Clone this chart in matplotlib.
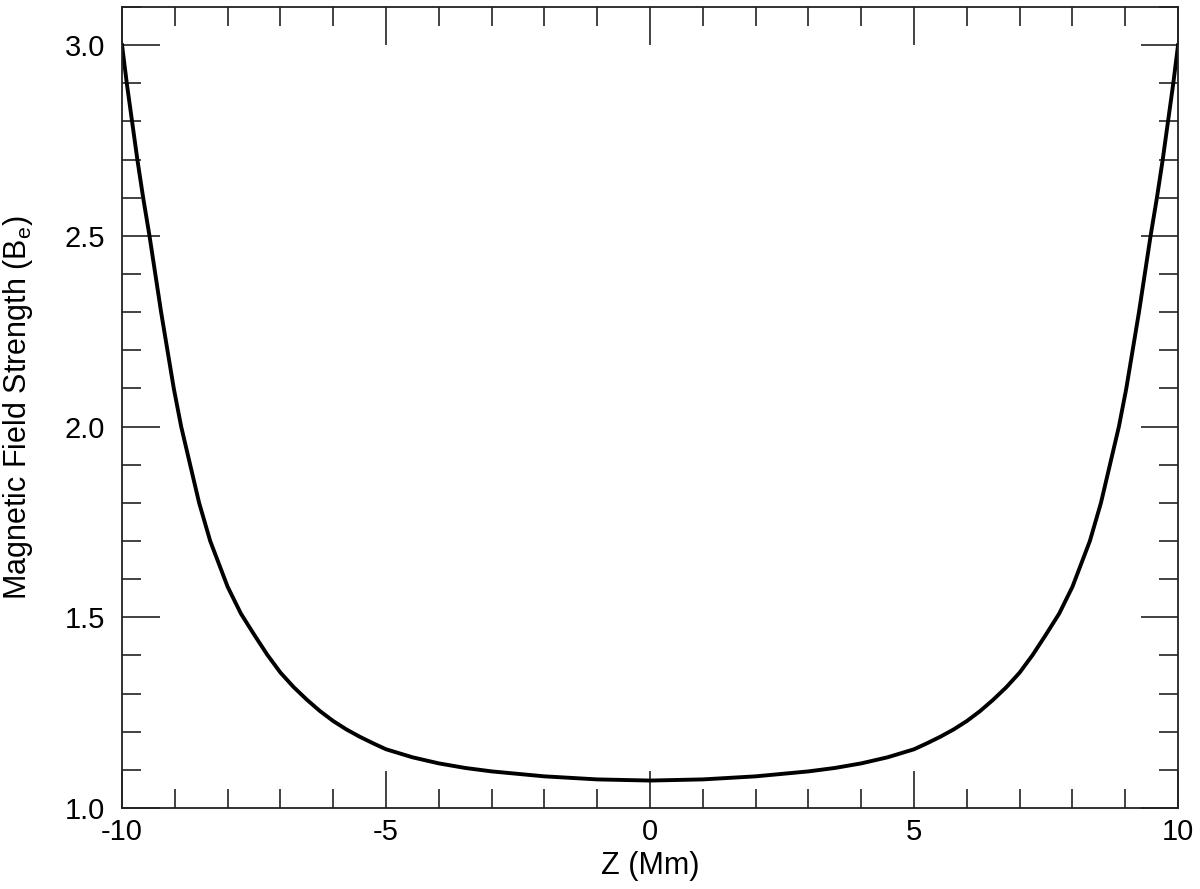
import matplotlib
matplotlib.use("Agg")
import matplotlib.pyplot as plt
from matplotlib.ticker import MultipleLocator

# Field strength along the loop
z_mm = [-10.0, -9.91, -9.81, -9.71, -9.60, -9.48, -9.37, -9.26, -9.14,
        -9.02, -8.88, -8.71, -8.54, -8.33, -8.0, -7.75, -7.5, -7.25, -7.0,
        -6.75, -6.5, -6.25, -6.0, -5.75, -5.5, -5.25, -5.0, -4.5, -4.0,
        -3.5, -3.0, -2.0, -1.0, 0.0,
        1.0, 2.0, 3.0, 3.5, 4.0, 4.5, 5.0, 5.25, 5.5, 5.75, 6.0, 6.25, 6.5,
        6.75, 7.0, 7.25, 7.5, 7.75, 8.0,
        8.33, 8.54, 8.71, 8.88, 9.02, 9.14, 9.26, 9.37, 9.48, 9.60, 9.71,
        9.81, 9.91, 10.0]
b_field = [3.00, 2.90, 2.80, 2.70, 2.60, 2.50, 2.40, 2.30, 2.20,
           2.10, 2.00, 1.90, 1.80, 1.70, 1.58, 1.51, 1.455, 1.402, 1.355,
           1.317, 1.284, 1.254, 1.228, 1.206, 1.187, 1.170, 1.154, 1.133, 1.117,
           1.105, 1.096, 1.083, 1.075, 1.072,
           1.075, 1.083, 1.096, 1.105, 1.117, 1.133, 1.154, 1.170, 1.187, 1.206,
           1.228, 1.254, 1.284,
           1.317, 1.355, 1.402, 1.455, 1.51, 1.58,
           1.70, 1.80, 1.90, 2.00, 2.10, 2.20, 2.30, 2.40, 2.50, 2.60, 2.70,
           2.80, 2.90, 3.00]

plt.rcParams['font.family'] = ['Liberation Sans', 'DejaVu Sans']
plt.rcParams['mathtext.default'] = 'regular'
plt.rcParams['axes.unicode_minus'] = False

fig = plt.figure(figsize=(12, 8.89), dpi=100)
ax = fig.add_axes([0.1017, 0.0911, 0.88, 0.901])

ax.plot(z_mm, b_field, color='black', lw=2.8, solid_joinstyle='round')

ax.set_xlim(-10, 10)
ax.set_ylim(1.0, 3.1)

ax.xaxis.set_major_locator(MultipleLocator(5))
ax.xaxis.set_minor_locator(MultipleLocator(1))
ax.yaxis.set_major_locator(MultipleLocator(0.5))
ax.yaxis.set_minor_locator(MultipleLocator(0.1))
ax.yaxis.set_major_formatter(plt.FormatStrFormatter('%.1f'))

ax.tick_params(which='both', direction='in', top=True, right=True,
               width=1.2, color='#222222')
ax.tick_params(which='major', length=27, labelsize=21)
ax.tick_params(which='minor', length=14)
ax.tick_params(axis='x', which='major', pad=7)
ax.tick_params(axis='y', which='major', pad=12)
for sp in ax.spines.values():
    sp.set_linewidth(1.3)
    sp.set_color('#222222')

ax.set_xlabel('Z (Mm)', fontsize=22)
ax.xaxis.set_label_coords(0.5, -0.054)
ax.set_ylabel('Magnetic Field Strength (B$_e$)', fontsize=22)
ax.yaxis.set_label_coords(-0.082, 0.5)

fig.savefig('out.png', dpi=100)
